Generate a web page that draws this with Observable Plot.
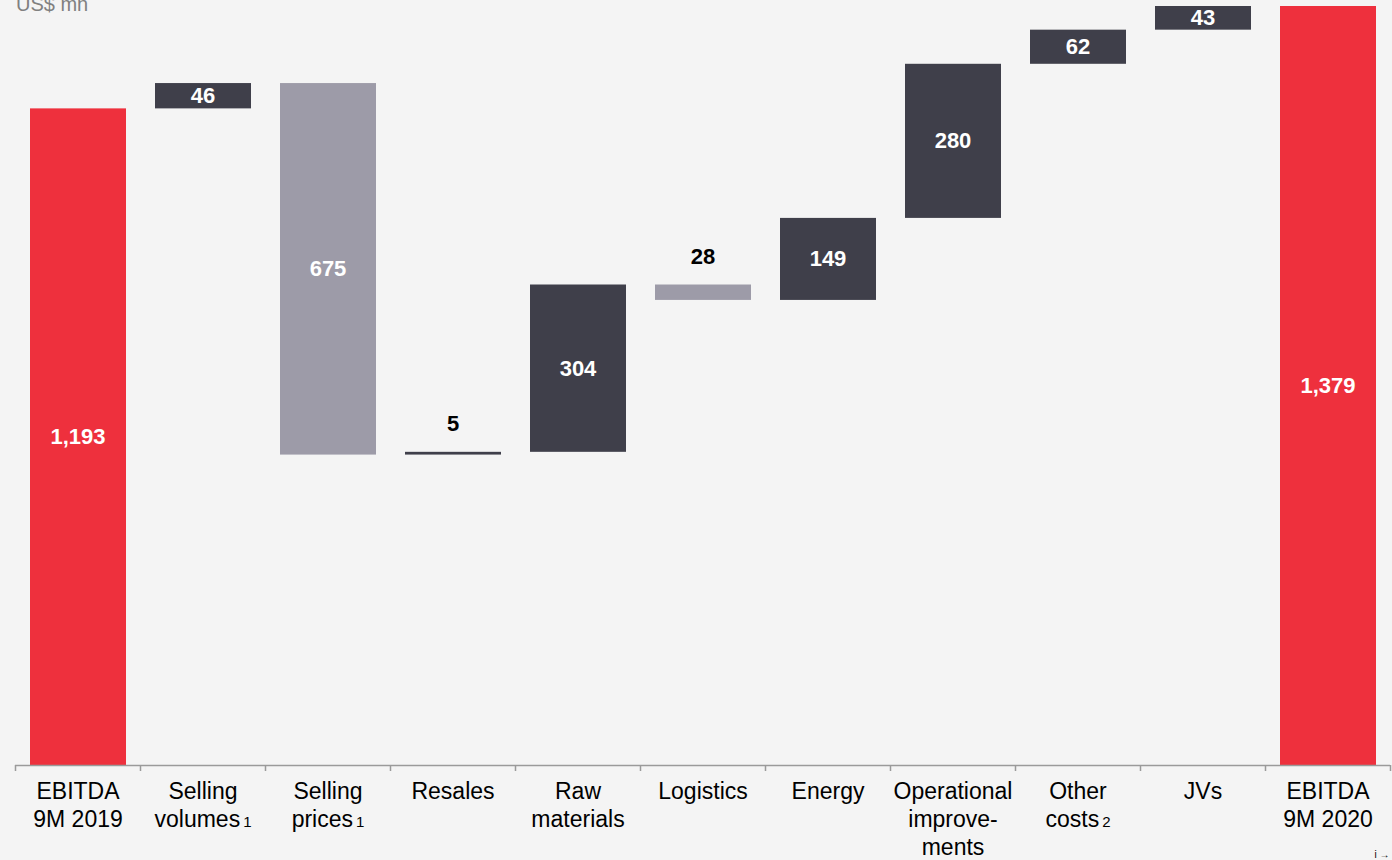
<!DOCTYPE html>
<html>
<head>
<meta charset="utf-8">
<script src="https://cdn.jsdelivr.net/npm/d3@7"></script>
<script src="https://cdn.jsdelivr.net/npm/@observablehq/plot@0.6"></script>
<style>
  html, body { margin: 0; padding: 0; background: #f4f4f4; overflow: hidden; }
  #wrap { position: relative; width: 1392px; height: 860px; }
  #wrap svg { position: absolute; left: 0; top: 0; }
  #unit { position: absolute; left: 16px; top: -7px; z-index: 2; font: 20px "Liberation Sans", Arial, sans-serif; color: #808080; }
</style>
</head>
<body>
<div id="wrap">
  <div id="unit">US$ mn</div>
</div>
<script>
// ---- data ----
const categories = [
  "EBITDA\n9M 2019", "Selling\nvolumes", "Selling\nprices", "Resales", "Raw\nmaterials",
  "Logistics", "Energy", "Operational\nimprove-\nments", "Other\ncosts", "JVs", "EBITDA\n9M 2020"
];
const footnotes = ["", "1", "1", "", "", "", "", "", "2", "", ""];
const startTotal = 1193;
const deltas = [46, -675, 5, 304, -28, 149, 280, 62, 43];
const endTotal = 1379;

// ---- build waterfall rows ----
const rows = [];
rows.push({i: 0, y1: 0, y2: startTotal, value: startTotal, kind: "total"});
let run = startTotal;
deltas.forEach((d, k) => {
  rows.push({i: k + 1, y1: run, y2: run + d, value: Math.abs(d), kind: d >= 0 ? "up" : "down"});
  run += d;
});
rows.push({i: categories.length - 1, y1: 0, y2: endTotal, value: endTotal, kind: "total"});

const fmt = d3.format(",");
const small = r => Math.abs(r.y2 - r.y1) < 40;
const inside = rows.filter(r => !small(r));
const above = rows.filter(r => small(r));

const catRows = categories.map((c, i) => ({i, label: c}));

const chart = Plot.plot({
  width: 1392,
  height: 860,
  marginLeft: 15,
  marginRight: 2,
  marginTop: 6,
  marginBottom: 95,
  style: {fontFamily: '"Liberation Sans", Arial, sans-serif', background: "#f4f4f4"},
  x: {type: "linear", domain: [-0.5, categories.length - 0.5], axis: null},
  y: {domain: [0, endTotal], axis: null},
  color: {domain: ["total", "up", "down"], range: ["#ee303d", "#3f3f4a", "#9d9ba8"]},
  marks: [
    Plot.rectY(rows, {
      x1: d => d.i - 0.5, x2: d => d.i + 0.5,
      y1: "y1", y2: "y2", fill: "kind",
      insetLeft: 15, insetRight: 14
    }),
    Plot.ruleY([0], {stroke: "#9a9a9a", strokeWidth: 1.5}),
    Plot.axisX({
      ticks: d3.range(categories.length + 1).map(k => k - 0.5),
      tickSize: 6, tickFormat: () => "", stroke: "#9a9a9a", strokeWidth: 1.5
    }),
    Plot.text(catRows, {
      x: "i", y: () => 0, text: "label",
      lineAnchor: "top", dy: 14, lineHeight: 1.217,
      fontSize: 23, fill: "#000"
    }),
    Plot.text(inside, {
      x: "i", y: d => (d.y1 + d.y2) / 2, text: d => fmt(d.value),
      fontSize: 22, fontWeight: "bold", fill: "white"
    }),
    Plot.text(above, {
      x: "i", y: d => Math.max(d.y1, d.y2), text: d => fmt(d.value),
      dy: -28, fontSize: 22, fontWeight: "bold", fill: "black"
    })
  ]
});

document.getElementById("wrap").appendChild(chart);

// footnote markers appended to the last line of the matching category label
const plain = categories.map(c => c.replace(/\n/g, ""));
chart.querySelectorAll("text").forEach(t => {
  const k = plain.indexOf(t.textContent);
  if (k < 0 || !footnotes[k]) return;
  const ts = document.createElementNS("http://www.w3.org/2000/svg", "tspan");
  ts.setAttribute("font-size", "15");
  ts.setAttribute("dx", "3");
  ts.textContent = footnotes[k];
  t.appendChild(ts);
});
</script>
</body>
</html>
